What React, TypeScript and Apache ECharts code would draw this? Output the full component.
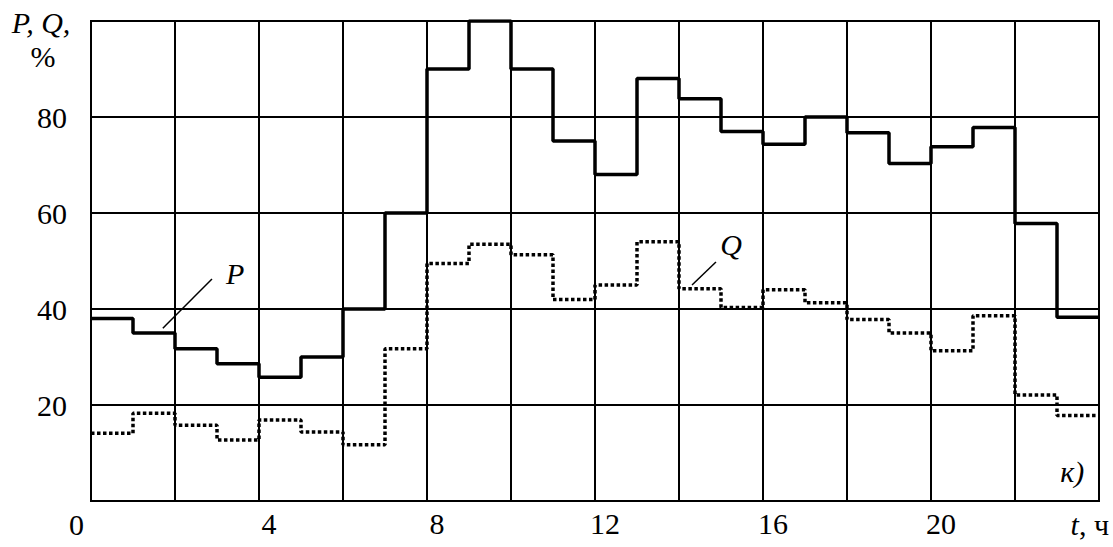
import React, { useEffect, useRef } from "react";
import * as echarts from "echarts";

const hours = [0, 1, 2, 3, 4, 5, 6, 7, 8, 9, 10, 11, 12, 13, 14, 15, 16, 17, 18, 19, 20, 21, 22, 23, 24];
const pValues = [38, 35, 31.7, 28.6, 25.8, 30, 40, 60, 90, 100, 90, 75, 68, 88, 83.8, 77, 74.3, 80, 76.7, 70.3, 73.8, 77.8, 57.8, 38.3];
const qValues = [14.1, 18.3, 15.8, 12.7, 16.9, 14.4, 11.7, 31.7, 49.5, 53.5, 51.3, 42, 45, 54, 44.2, 40.3, 44, 41.3, 37.8, 35, 31.3, 38.6, 22.1, 17.8];
const xTickLabels = [4, 8, 12, 16, 20];
const yTickLabels = [20, 40, 60, 80];

const FONT = "Liberation Serif";
const FS = 30;

function stepData(vals: number[]) {
  const out: number[][] = vals.map((v, i) => [hours[i], v]);
  out.push([hours[vals.length], vals[vals.length - 1]]);
  return out;
}

function txt(x: number, y: number, text: string, italic: boolean, align: string, vAlign: string, extra: any = {}) {
  return {
    type: "text",
    x,
    y,
    z: 10,
    style: {
      text,
      fontFamily: FONT,
      fontSize: FS,
      fontStyle: italic ? "italic" : "normal",
      fill: "#000",
      align,
      verticalAlign: vAlign,
      ...extra,
    },
  };
}

export default function App() {
  const ref = useRef<HTMLDivElement>(null);
  useEffect(() => {
    if (!ref.current) return;
    const chart = echarts.init(ref.current, null, { renderer: "svg" });
    chart.setOption({
      animation: false,
      backgroundColor: "#fff",
      textStyle: { fontFamily: FONT },
      grid: {
        left: 91,
        right: 14,
        top: 21,
        bottom: 46,
        show: true,
        borderColor: "#000",
        borderWidth: 2,
        backgroundColor: "transparent",
      },
      xAxis: {
        type: "value",
        min: 0,
        max: 24,
        interval: 2,
        axisLine: { show: true, lineStyle: { color: "#000", width: 2 } },
        axisTick: { show: false },
        splitLine: { show: true, lineStyle: { color: "#000", width: 2 } },
        axisLabel: {
          margin: 7,
          color: "#000",
          fontFamily: FONT,
          fontSize: FS,
          align: "center",
          padding: [0, 0, 0, 20],
          formatter: (v: number) => (xTickLabels.indexOf(v) >= 0 ? String(v) : ""),
        },
      },
      yAxis: {
        type: "value",
        min: 0,
        max: 100,
        interval: 20,
        axisLine: { show: true, lineStyle: { color: "#000", width: 2 } },
        axisTick: { show: false },
        splitLine: { show: true, lineStyle: { color: "#000", width: 2 } },
        axisLabel: {
          margin: 24,
          color: "#000",
          fontFamily: FONT,
          fontSize: FS,
          formatter: (v: number) => (yTickLabels.indexOf(v) >= 0 ? String(v) : ""),
        },
      },
      series: [
        {
          name: "P",
          type: "line",
          step: "end",
          data: stepData(pValues),
          showSymbol: false,
          lineStyle: { color: "#000", width: 3.5 },
          z: 5,
        },
        {
          name: "Q",
          type: "line",
          step: "end",
          data: stepData(qValues),
          showSymbol: false,
          lineStyle: { color: "#000", width: 3.5, type: [3.5, 2.5] },
          z: 4,
        },
      ],
    });

    const px = (x: number, y: number) => chart.convertToPixel({ gridIndex: 0 }, [x, y]) as number[];
    const pA = px(1.71, 36);
    const pB = px(2.88, 46.25);
    const pT = px(3.43, 47.5);
    const qA = px(14.88, 49.8);
    const qB = px(14.31, 45);
    const qT = px(15.24, 53.5);
    const kT = px(23.65, 3.0);

    chart.setOption({
      graphic: [
        { type: "line", shape: { x1: pA[0], y1: pA[1], x2: pB[0], y2: pB[1] }, style: { stroke: "#000", lineWidth: 1.5 }, z: 10 },
        { type: "line", shape: { x1: qA[0], y1: qA[1], x2: qB[0], y2: qB[1] }, style: { stroke: "#000", lineWidth: 1.5 }, z: 10 },
        txt(pT[0], pT[1], "P", true, "center", "middle"),
        txt(qT[0], qT[1], "Q", true, "center", "middle"),
        txt(kT[0], kT[1], "к)", true, "right", "bottom"),
        txt(84, 524, "0", false, "right", "middle"),
        txt(1109, 524, "{i|t}, ч", false, "right", "middle", {
          rich: { i: { fontStyle: "italic", fontFamily: FONT, fontSize: FS, fill: "#000" } },
        }),
        txt(41, 22, "P, Q,", true, "center", "middle"),
        txt(43, 56, "%", false, "center", "middle"),
      ],
    });

    return () => chart.dispose();
  }, []);
  return <div ref={ref} style={{ position: "absolute", left: 0, top: 0, width: 1113, height: 547 }} />;
}
